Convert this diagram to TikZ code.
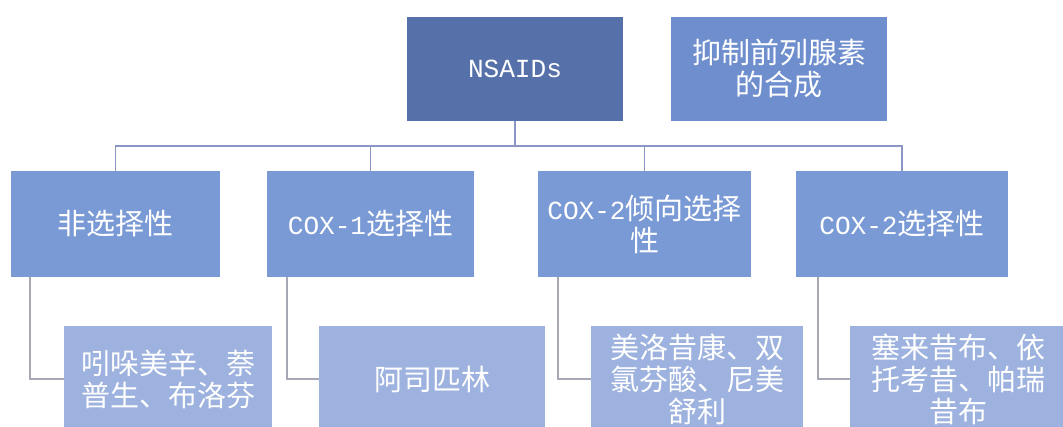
\documentclass[tikz,border=0pt]{standalone}
\usepackage{fontspec}
\setmainfont{Noto Sans CJK SC}
\newfontfamily\lat[Scale=0.9]{Liberation Mono}
\definecolor{topdark}{HTML}{5671AA}
\definecolor{topside}{HTML}{6E8ECE}
\definecolor{midbox}{HTML}{7A9AD5}
\definecolor{leafbox}{HTML}{9DB2DE}
\definecolor{busline}{HTML}{8C96C4}
\definecolor{elbowline}{HTML}{A6A8B4}
\begin{document}
\begin{tikzpicture}[x=1pt,y=-1pt,
  box/.style={rectangle, inner sep=0pt, text=white, align=center,
    font=\fontsize{29}{32}\selectfont},
  topbox/.style={box, fill=topdark, minimum width=216pt, minimum height=104pt},
  sidebox/.style={box, fill=topside, minimum width=216pt, minimum height=104pt},
  midbox/.style={box, fill=midbox, minimum height=106pt},
  leafbox/.style={box, fill=leafbox, minimum height=106pt},
  bus/.style={draw=busline, line width=1.4pt},
  elbow/.style={draw=elbowline, line width=1.4pt}]
\useasboundingbox (0,0) rectangle (1063,426);
\clip (0,0) rectangle (1063,426);

\node[topbox] (nsaid) at (515,69) {\lat NSAIDs};
\node[sidebox] (inhib) at (779,69) {抑制前列腺素\\的合成};

\node[midbox, minimum width=209pt] (b1) at (115.5,224) {非选择性};
\node[midbox, minimum width=207pt] (b2) at (370.5,224) {{\lat COX-1}选择性};
\node[midbox, minimum width=213pt] (b3) at (644.5,224) {{\lat COX-2}倾向选择\\性};
\node[midbox, minimum width=212pt] (b4) at (902,224) {{\lat COX-2}选择性};

\node[leafbox, minimum width=208pt] (c1) at (168,379) {吲哚美辛、萘\\普生、布洛芬};
\node[leafbox, minimum width=226pt] (c2) at (432,379) {阿司匹林};
\node[leafbox, minimum width=212pt] (c3) at (697,379) {美洛昔康、双\\氯芬酸、尼美\\舒利};
\node[leafbox, minimum width=216pt] (c4) at (958,379) {塞来昔布、依\\托考昔、帕瑞\\昔布};

\coordinate (busy) at (515,146);
\draw[bus] (nsaid.south) -- (nsaid.south |- busy);
\draw[bus] (b1.north) -- (b1.north |- busy) -- (b4.north |- busy) -- (b4.north);
\draw[bus] (b2.north) -- (b2.north |- busy);
\draw[bus] (b3.north) -- (b3.north |- busy);

\draw[elbow] ([xshift=19pt]b1.south west) |- (c1.west);
\draw[elbow] ([xshift=20pt]b2.south west) |- (c2.west);
\draw[elbow] ([xshift=20pt]b3.south west) |- (c3.west);
\draw[elbow] ([xshift=22pt]b4.south west) |- (c4.west);
\end{tikzpicture}
\end{document}
